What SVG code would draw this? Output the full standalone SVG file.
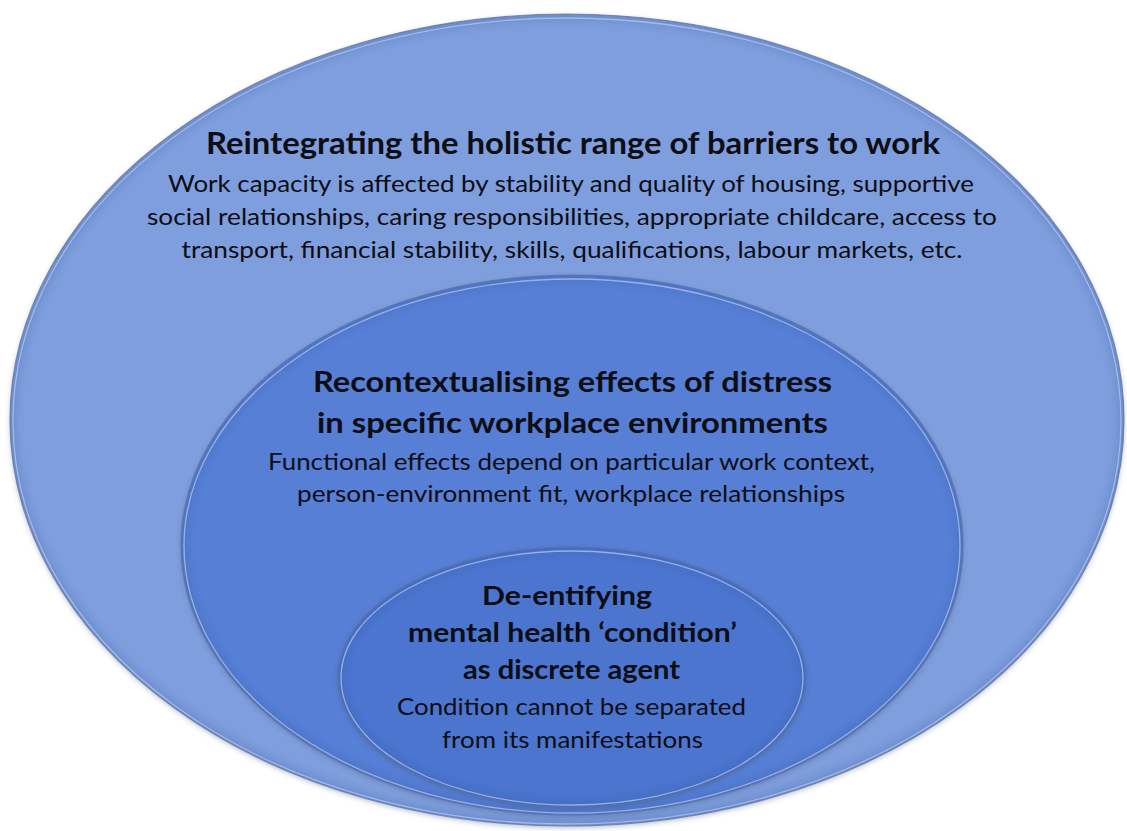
<svg xmlns="http://www.w3.org/2000/svg" width="1127" height="831" viewBox="0 0 1127 831">
  <style>
    .title { font-family: Lato, "Open Sans", "Liberation Sans", sans-serif; font-weight: 700; fill: #0d0d14; text-anchor: middle; }
    .body { font-family: Lato, "Open Sans", "Liberation Sans", sans-serif; font-weight: 400; fill: #0d0d14; text-anchor: middle; }
    .rim { fill: none; stroke: #5f719a; stroke-width: 1.2; stroke-opacity: 0.75; }
    .glint { fill: none; stroke: #b8cbf4; stroke-width: 1.3; stroke-opacity: 0.7; }
    .shade { fill: none; stroke: #2f4f98; stroke-width: 10; stroke-opacity: 0.28; }
  </style>
  <defs>
    <filter id="drop" x="-5%" y="-5%" width="110%" height="112%">
      <feDropShadow dx="0" dy="2" stdDeviation="2.5" flood-color="#3a4a6e" flood-opacity="0.35"/>
    </filter>
    <filter id="soft" x="-5%" y="-5%" width="110%" height="110%">
      <feGaussianBlur stdDeviation="4"/>
    </filter>
    <clipPath id="clip-outer"><ellipse cx="567" cy="420" rx="557" ry="406"/></clipPath>
    <clipPath id="clip-middle"><ellipse cx="572" cy="545" rx="391" ry="270"/></clipPath>
    <clipPath id="clip-inner"><ellipse cx="572" cy="677" rx="234" ry="130"/></clipPath>
  </defs>

  <rect width="1127" height="831" fill="#ffffff"/>

  <!-- outer ring: holistic barriers -->
  <g id="node-outer">
    <ellipse cx="567" cy="420" rx="557" ry="406" fill="#7f9edd" filter="url(#drop)"/>
    <ellipse class="shade" cx="567" cy="420" rx="557" ry="406" clip-path="url(#clip-outer)" filter="url(#soft)"/>
    <ellipse class="glint" cx="567" cy="421" rx="554" ry="403"/>
    <ellipse class="rim" cx="567" cy="420" rx="557" ry="406"/>
    <text class="title" x="573" y="154" font-size="30" textLength="734" lengthAdjust="spacingAndGlyphs">Reintegrating the holistic range of barriers to work</text>
    <text class="body" x="571" y="192" font-size="24" textLength="806" lengthAdjust="spacingAndGlyphs">Work capacity is affected by stability and quality of housing, supportive</text>
    <text class="body" x="572" y="225" font-size="24" textLength="850" lengthAdjust="spacingAndGlyphs">social relationships, caring responsibilities, appropriate childcare, access to</text>
    <text class="body" x="572" y="258" font-size="24" textLength="781" lengthAdjust="spacingAndGlyphs">transport, financial stability, skills, qualifications, labour markets, etc.</text>
  </g>

  <!-- middle ring: workplace context -->
  <g id="node-middle">
    <ellipse cx="572" cy="545" rx="391" ry="270" fill="#577fd5" filter="url(#drop)"/>
    <ellipse class="shade" cx="572" cy="545" rx="391" ry="270" clip-path="url(#clip-middle)" filter="url(#soft)"/>
    <ellipse class="glint" cx="572" cy="546" rx="388" ry="267"/>
    <ellipse class="rim" cx="572" cy="545" rx="391" ry="270"/>
    <text class="title" x="572.5" y="392" font-size="29" textLength="519" lengthAdjust="spacingAndGlyphs">Recontextualising effects of distress</text>
    <text class="title" x="572.5" y="433" font-size="29" textLength="511" lengthAdjust="spacingAndGlyphs">in specific workplace environments</text>
    <text class="body" x="571.5" y="470" font-size="23" textLength="607" lengthAdjust="spacingAndGlyphs">Functional effects depend on particular work context,</text>
    <text class="body" x="571" y="502" font-size="23" textLength="548" lengthAdjust="spacingAndGlyphs">person-environment fit, workplace relationships</text>
  </g>

  <!-- inner ring: the condition itself -->
  <g id="node-inner">
    <ellipse cx="572" cy="677" rx="234" ry="130" fill="#4b74cf" filter="url(#drop)"/>
    <ellipse class="shade" cx="572" cy="677" rx="234" ry="130" clip-path="url(#clip-inner)" filter="url(#soft)"/>
    <ellipse class="glint" cx="572" cy="678" rx="231" ry="127"/>
    <ellipse class="rim" cx="572" cy="677" rx="234" ry="130"/>
    <text class="title" x="567" y="605" font-size="27" textLength="170" lengthAdjust="spacingAndGlyphs">De-entifying</text>
    <text class="title" x="572.5" y="642" font-size="27" textLength="329" lengthAdjust="spacingAndGlyphs">mental health ‘condition’</text>
    <text class="title" x="571.5" y="679" font-size="27" textLength="217" lengthAdjust="spacingAndGlyphs">as discrete agent</text>
    <text class="body" x="571.5" y="715" font-size="23" textLength="349" lengthAdjust="spacingAndGlyphs">Condition cannot be separated</text>
    <text class="body" x="572.5" y="748" font-size="23" textLength="261" lengthAdjust="spacingAndGlyphs">from its manifestations</text>
  </g>
</svg>
